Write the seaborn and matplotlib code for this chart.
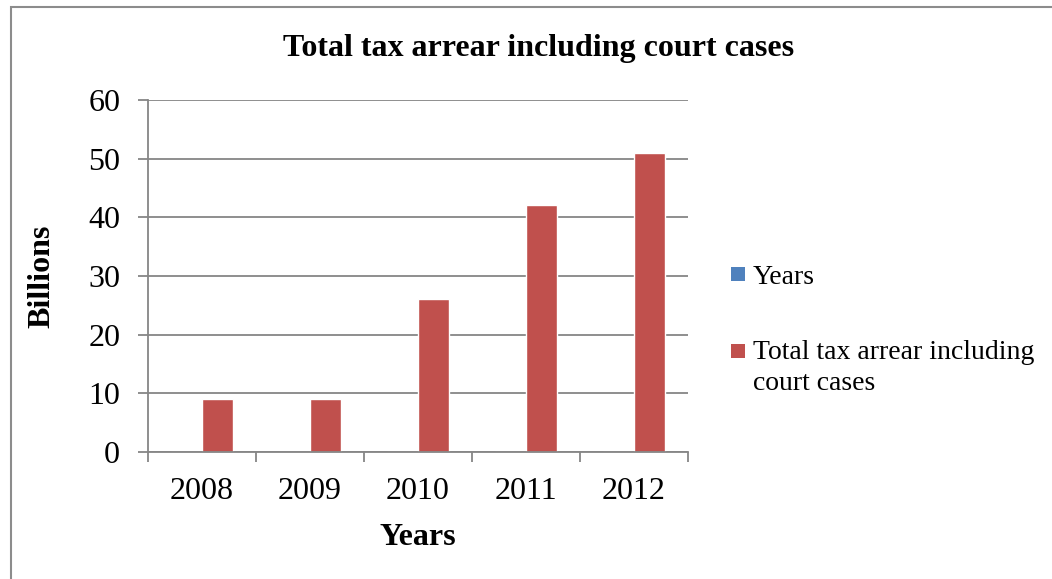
import matplotlib
matplotlib.use("Agg")
import matplotlib.pyplot as plt
from matplotlib.patches import Rectangle, Patch
from matplotlib.legend_handler import HandlerPatch
from matplotlib.ticker import MultipleLocator, FixedLocator
import pandas as pd
import seaborn as sns

# Data
years = ["2008", "2009", "2010", "2011", "2012"]
years_series = [0, 0, 0, 0, 0]
arrears = [9.0, 9.1, 26.1, 42.1, 51.0]
series_names = ["Years", "Total tax arrear including court cases"]
legend_labels = ["Years", "Total tax arrear including\ncourt cases"]
colors = ["#4F81BD", "#C0504D"]

df = pd.DataFrame({
    "year": years * 2,
    "series": [series_names[0]] * len(years) + [series_names[1]] * len(years),
    "value": years_series + arrears,
})

sns.set_theme(style="white")
plt.rcParams["font.family"] = ["Liberation Serif", "DejaVu Serif"]
plt.rcParams["text.color"] = "black"
plt.rcParams["axes.labelcolor"] = "black"

fig = plt.figure(figsize=(10.52, 5.79), dpi=100)
ax = fig.add_axes([0.1407, 0.2193, 0.5133, 0.6080])

sns.barplot(data=df, x="year", y="value", hue="series", palette=colors,
            width=0.571, saturation=1, ax=ax, legend=False, errorbar=None)

grid_c = "#868686"
ax.set_ylim(0, 60)
ax.set_xlim(-0.5, len(years) - 0.5)
ax.yaxis.set_major_locator(MultipleLocator(10))
ax.grid(axis="y", color=grid_c, linewidth=1.3)
ax.set_axisbelow(True)
for s in ["top", "right"]:
    ax.spines[s].set_visible(False)
for s in ["left", "bottom"]:
    ax.spines[s].set_color(grid_c)
    ax.spines[s].set_linewidth(1.3)

ax.tick_params(axis="y", which="major", left=True, length=7, width=1.3,
               color=grid_c, labelsize=23, pad=13, labelcolor="black")
ax.tick_params(axis="x", which="major", bottom=False, labelsize=23, pad=12,
               labelcolor="black")
ax.xaxis.set_minor_locator(FixedLocator([i - 0.5 for i in range(len(years) + 1)]))
ax.tick_params(axis="x", which="minor", bottom=True, length=7, width=1.3,
               color=grid_c)

ax.set_xlabel("Years", fontsize=23, fontweight="bold", labelpad=12)
ax.set_ylabel("Billions", fontsize=23, fontweight="bold", labelpad=23)

fig.text(0.5115, 0.917, "Total tax arrear including court cases",
         fontsize=23, fontweight="bold", ha="center", va="center")


# Legend keys: square swatches sitting level with the first text line
def square_key(shift):
    def make(legend, orig_handle, xdescent, ydescent, width, height, fontsize):
        side = width
        y0 = -ydescent + (height - side) / 2 + shift * fontsize
        return Rectangle((-xdescent, y0), side, side)
    return HandlerPatch(patch_func=make)


handles = [Patch(facecolor=c, edgecolor="none") for c in colors]
leg = fig.legend(handles, legend_labels, loc="center left",
                 bbox_to_anchor=(0.671, 0.43), frameon=False, fontsize=20,
                 handlelength=0.5, handleheight=0.7, handletextpad=0.3,
                 labelspacing=1.8,
                 handler_map={handles[0]: square_key(0.0),
                              handles[1]: square_key(0.6)})
for t in leg.get_texts():
    t.set_linespacing(1.3)

fig.patches.append(Rectangle((11 / 1052, -0.1), 1.2, (579 - 7) / 579 + 0.1,
                             transform=fig.transFigure, fill=False,
                             edgecolor="#8c8c8c", linewidth=1.5))

fig.savefig("out.png", dpi=100)
